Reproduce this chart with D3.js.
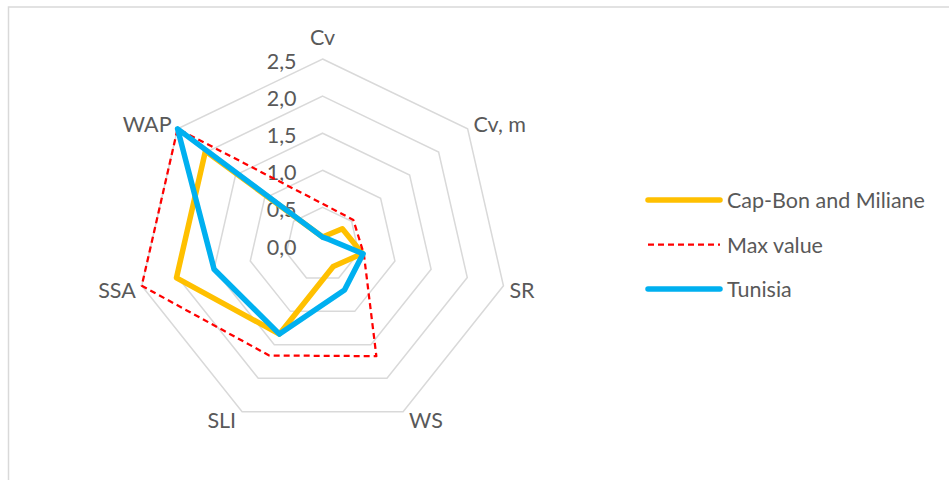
<!DOCTYPE html>
<html>
<head>
<meta charset="utf-8">
<script src="https://cdn.jsdelivr.net/npm/d3@7"></script>
<style>
  body { margin: 0; background: #fff; }
  svg text { font-family: Lato, "Liberation Sans", sans-serif; fill: #595959; }
</style>
</head>
<body>
<div id="chart"></div>
<script>
const axes = ["Cv", "Cv, m", "SR", "WS", "SLI", "SSA", "WAP"];
const capBon = [0.10, 0.34, 0.55, 0.33, 1.34, 2.02, 2.02];
const maxValue = [0.55, 0.53, 0.57, 1.67, 1.66, 2.50, 2.50];
const tunisia = [0.10, 0.11, 0.56, 0.68, 1.34, 1.50, 2.50];
const ticks = [0, 0.5, 1, 1.5, 2, 2.5];
const seriesNames = ["Cap-Bon and Miliane", "Max value", "Tunisia"];

const width = 949, height = 480;
const cx = 322.6, cy = 244.5, R = 185.5;

const svg = d3.select("#chart").append("svg")
    .attr("width", width)
    .attr("height", height);

// chart frame
svg.append("rect")
    .attr("x", 8.5).attr("y", 7)
    .attr("width", 1000).attr("height", 600)
    .attr("fill", "none")
    .attr("stroke", "#d9d9d9")
    .attr("stroke-width", 1.5);

const r = d3.scaleLinear().domain([0, 2.5]).range([0, R]);
const angle = d3.scalePoint().domain(axes).range([0, 2 * Math.PI * (axes.length - 1) / axes.length]);

const g = svg.append("g").attr("transform", `translate(${cx},${cy})`);

const line = d3.lineRadial()
    .angle((d, i) => angle(axes[i]))
    .radius(d => r(d))
    .curve(d3.curveLinearClosed);

// grid rings
g.append("g")
    .selectAll("path")
    .data(ticks.slice(1))
    .enter().append("path")
        .attr("d", t => line(axes.map(() => t)))
        .attr("fill", "none")
        .attr("stroke", "#d9d9d9")
        .attr("stroke-width", 1.5);

// tick labels
g.append("g")
    .selectAll("text")
    .data(ticks)
    .enter().append("text")
        .attr("x", -26)
        .attr("y", t => -r(t) + 2)
        .attr("dominant-baseline", "central")
        .attr("text-anchor", "end")
        .style("font-size", "21.5px")
        .text(t => d3.format(".1f")(t).replace(".", ","));

// axis labels
g.append("g")
    .selectAll("text")
    .data(axes)
    .enter().append("text")
        .each(function (a) {
            const th = angle(a), s = Math.sin(th), c = Math.cos(th);
            const vx = R * s, vy = -R * c;
            const anchor = s > 0.1 ? "start" : s < -0.1 ? "end" : "middle";
            const dx = s > 0.1 ? 6 : s < -0.1 ? -6 : 0;
            const dy = c > 0.9 ? -22 : c > 0 ? -5 : c > -0.5 ? 4 : 8;
            d3.select(this)
                .attr("x", vx + dx)
                .attr("y", vy + dy)
                .attr("text-anchor", anchor);
        })
        .attr("dominant-baseline", "central")
        .style("font-size", "21.5px")
        .text(a => a);

const series = [
    { name: seriesNames[0], values: capBon, color: "#FFC000", w: 5.5, dash: null },
    { name: seriesNames[1], values: maxValue, color: "#FF0000", w: 2.25, dash: "6,4" },
    { name: seriesNames[2], values: tunisia, color: "#00B0F0", w: 5.5, dash: null }
];

g.append("g")
    .selectAll("path")
    .data(series)
    .enter().append("path")
        .attr("d", d => line(d.values))
        .attr("fill", "none")
        .attr("stroke", d => d.color)
        .attr("stroke-width", d => d.w)
        .attr("stroke-dasharray", d => d.dash)
        .attr("stroke-linejoin", "round");

// legend
const legend = svg.append("g")
    .selectAll("g")
    .data(series)
    .enter().append("g")
        .attr("transform", (d, i) => `translate(648,${200 + i * 44.5})`);

legend.append("line")
    .attr("x1", 0).attr("x2", 72)
    .attr("stroke", d => d.color)
    .attr("stroke-width", d => d.w)
    .attr("stroke-dasharray", d => d.dash)
    .attr("stroke-linecap", d => d.dash ? "butt" : "round");

legend.append("text")
    .attr("x", 79)
    .attr("dominant-baseline", "central")
    .style("font-size", "21.5px")
    .text(d => d.name);
</script>
</body>
</html>
